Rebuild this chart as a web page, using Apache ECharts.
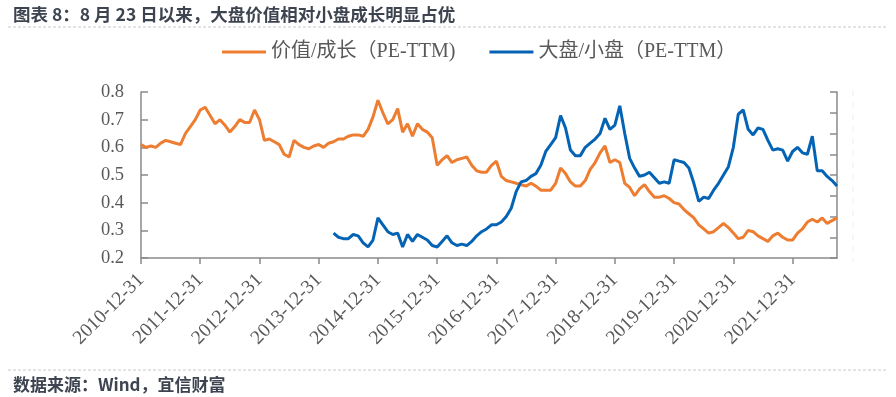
<!DOCTYPE html>
<html><head><meta charset="utf-8">
<script src="https://cdn.jsdelivr.net/npm/echarts@6/dist/echarts.min.js"></script>
<style>html,body{margin:0;padding:0;background:#fff}#c{width:896px;height:397px}</style>
</head><body><div id="c"></div>
<script>
// month-end categories from 2010-12 to 2022-09
var startYear = 2010, startMonth = 12, monthCount = 142;
var categories = [];
(function(){
  var y = startYear, m = startMonth;
  for (var i = 0; i < monthCount; i++) {
    var last = new Date(Date.UTC(y, m, 0)).getUTCDate();
    categories.push(y + '-' + (m < 10 ? '0' + m : m) + '-' + last);
    m++; if (m > 12) { m = 1; y++; }
  }
})();

var valueGrowth = [
  0.61,0.60,0.605,0.60,0.615,0.625,0.62,0.615,0.61,0.65,0.675,0.70,
  0.735,0.745,0.715,0.685,0.70,0.68,0.655,0.675,0.70,0.69,0.69,0.735,
  0.70,0.625,0.63,0.62,0.61,0.575,0.565,0.625,0.61,0.60,0.595,0.605,
  0.61,0.60,0.615,0.62,0.63,0.63,0.64,0.645,0.645,0.64,0.665,0.71,
  0.77,0.725,0.685,0.70,0.74,0.655,0.685,0.64,0.685,0.665,0.655,0.635,
  0.535,0.555,0.57,0.545,0.555,0.56,0.565,0.535,0.515,0.51,0.51,0.535,
  0.55,0.495,0.48,0.475,0.47,0.465,0.46,0.47,0.46,0.445,0.445,0.445,
  0.47,0.525,0.505,0.475,0.46,0.46,0.48,0.52,0.545,0.58,0.605,0.545,
  0.555,0.545,0.47,0.455,0.425,0.45,0.465,0.44,0.42,0.42,0.425,0.415,
  0.40,0.395,0.375,0.36,0.345,0.32,0.305,0.29,0.295,0.31,0.325,0.31,
  0.29,0.27,0.275,0.30,0.295,0.28,0.27,0.26,0.28,0.29,0.275,0.265,
  0.265,0.29,0.305,0.33,0.34,0.33,0.345,0.325,0.335,0.345
];
var largeSmall = [
  null,null,null,null,null,null,null,null,null,null,null,null,
  null,null,null,null,null,null,null,null,null,null,null,null,
  null,null,null,null,null,null,null,null,null,null,null,null,
  null,null,null,0.29,0.275,0.27,0.27,0.285,0.28,0.255,0.24,0.265,
  0.345,0.32,0.295,0.285,0.29,0.24,0.285,0.26,0.285,0.275,0.265,0.245,
  0.24,0.26,0.28,0.255,0.245,0.25,0.245,0.26,0.28,0.295,0.305,0.32,
  0.32,0.33,0.35,0.38,0.44,0.475,0.48,0.495,0.505,0.535,0.585,0.61,
  0.635,0.715,0.67,0.59,0.57,0.57,0.60,0.615,0.63,0.65,0.705,0.665,
  0.68,0.75,0.65,0.56,0.525,0.495,0.50,0.51,0.49,0.47,0.475,0.47,
  0.555,0.55,0.545,0.525,0.47,0.405,0.42,0.415,0.445,0.47,0.50,0.53,
  0.60,0.72,0.735,0.665,0.645,0.67,0.665,0.625,0.59,0.595,0.59,0.55,
  0.585,0.60,0.58,0.575,0.64,0.515,0.515,0.495,0.48,0.46
];
var seriesNames = ['价值/成长（PE-TTM)', '大盘/小盘（PE-TTM）'];
var titleText = '图表 8：8 月 23 日以来，大盘价值相对小盘成长明显占优';
var sourceText = '数据来源：Wind，宜信财富';

var serif = '"Liberation Serif","Times New Roman","Noto Sans CJK SC",serif';
var axisColor = '#8a8a8a';
function isYearEnd(i) { return categories[i].slice(5, 7) === '12'; }

var chart = echarts.init(document.getElementById('c'), null, {renderer: 'canvas'});
chart.setOption({
  animation: false,
  backgroundColor: '#fff',
  title: [
    {text: titleText, left: 8, top: 1, textStyle: {fontSize: 17.5, fontWeight: 'bold', color: '#3d4450', fontFamily: '"Noto Sans CJK SC",sans-serif'}},
    {text: sourceText, left: 8, top: 371, textStyle: {fontSize: 17, fontWeight: 'bold', color: '#3d4450', fontFamily: '"Noto Sans CJK SC",sans-serif'}}
  ],
  legend: {
    top: 37, left: 217, icon: 'rect', itemWidth: 44, itemHeight: 3, itemGap: 34,
    textStyle: {fontSize: 20, color: '#595959', fontFamily: serif},
    data: seriesNames
  },
  grid: {left: 141, right: 59, top: 92, bottom: 139},
  xAxis: {
    type: 'category', data: categories, boundaryGap: false,
    axisLine: {lineStyle: {color: axisColor, width: 1.5}},
    axisTick: {interval: function(i){ return isYearEnd(i); }, length: 6, lineStyle: {color: axisColor, width: 1.5}},
    axisLabel: {interval: function(i){ return isYearEnd(i); }, rotate: 45, margin: 19, fontSize: 19.5, color: '#595959', fontFamily: serif},
    splitLine: {show: false}
  },
  yAxis: [
    {type: 'value', min: 0.2, max: 0.8, interval: 0.1, position: 'left',
     axisLine: {show: true, lineStyle: {color: axisColor, width: 1.5}},
     axisTick: {show: true, inside: true, length: 7, lineStyle: {color: axisColor, width: 1.5}},
     axisLabel: {margin: 17, fontSize: 18.5, color: '#595959', fontFamily: serif, formatter: function(v){ return v.toFixed(1); }},
     splitLine: {show: false}},
    {type: 'value', min: 0, max: 8, interval: 1, position: 'right',
     axisLine: {show: true, lineStyle: {color: axisColor, width: 1.5}},
     axisTick: {show: true, inside: true, length: 7, lineStyle: {color: axisColor, width: 1.5}},
     axisLabel: {show: false}, splitLine: {show: false}}
  ],
  graphic: [
    {type: 'line', shape: {x1: 8, y1: 27, x2: 888, y2: 27}, style: {stroke: '#c8c8c8', lineWidth: 1, lineDash: [3, 2]}},
    {type: 'line', shape: {x1: 8, y1: 370, x2: 888, y2: 370}, style: {stroke: '#c8c8c8', lineWidth: 1, lineDash: [3, 2]}},
    {type: 'line', shape: {x1: 853, y1: 90, x2: 853, y2: 262}, style: {stroke: '#f0f0f0', lineWidth: 1, lineDash: [6, 6]}}
  ],
  series: [
    {name: seriesNames[0], type: 'line', data: valueGrowth, symbol: 'none', yAxisIndex: 0,
     lineStyle: {color: '#ED7D31', width: 3}, itemStyle: {color: '#ED7D31'}},
    {name: seriesNames[1], type: 'line', data: largeSmall, symbol: 'none', yAxisIndex: 0,
     lineStyle: {color: '#0563B4', width: 3}, itemStyle: {color: '#0563B4'}}
  ]
});
</script>
</body></html>
